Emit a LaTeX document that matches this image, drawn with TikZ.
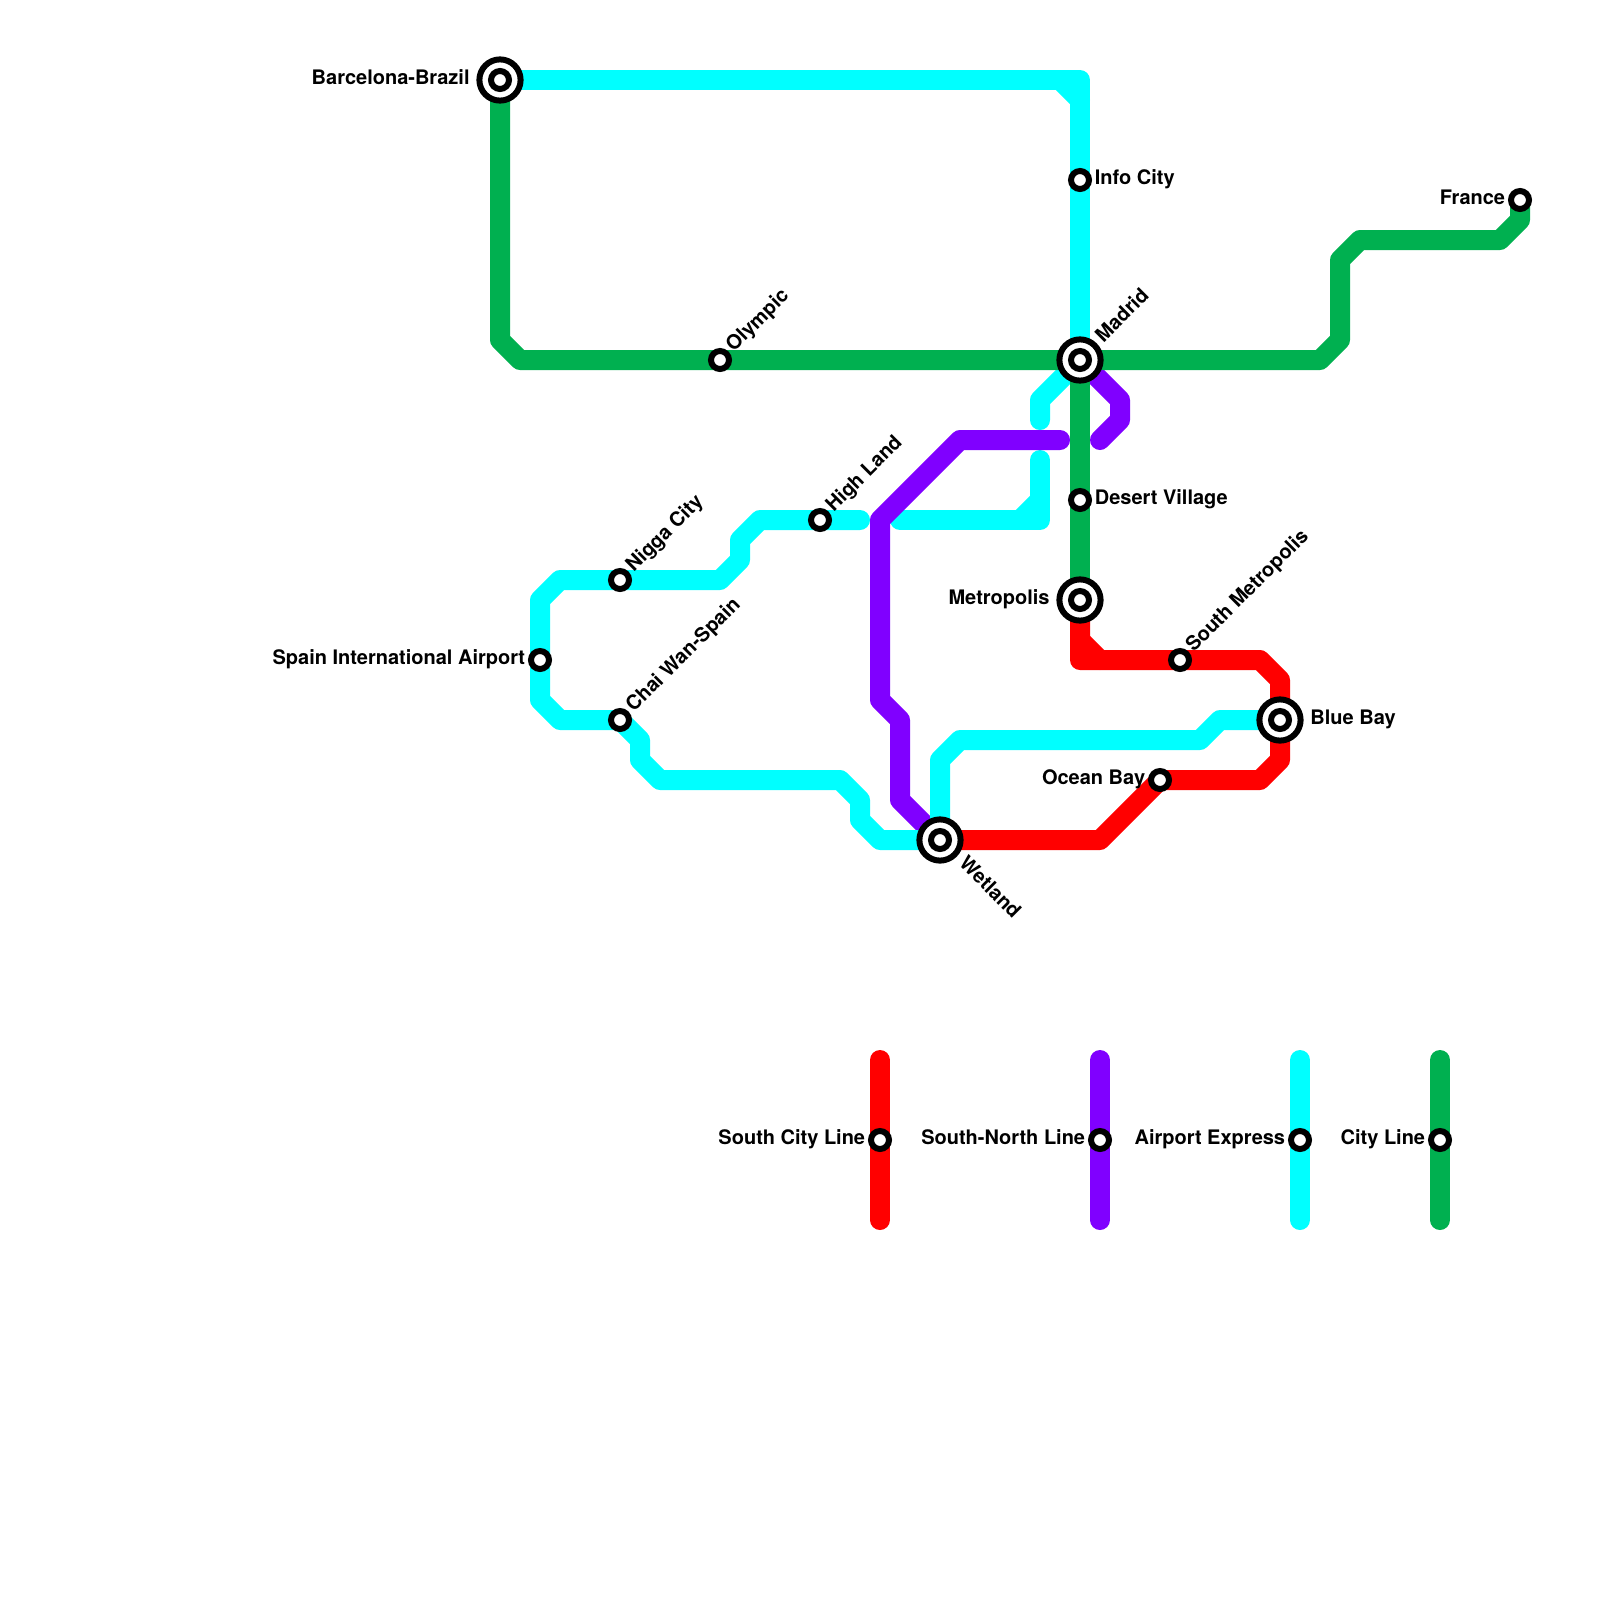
\documentclass[tikz,border=0pt]{standalone}
\usepackage{fontspec}
\setmainfont{TeX Gyre Heros}
\usetikzlibrary{positioning,backgrounds}
\definecolor{cityc}{HTML}{00B050}
\definecolor{airportc}{HTML}{00FFFF}
\definecolor{southc}{HTML}{FF0000}
\definecolor{northc}{HTML}{8000FF}
\tikzset{
stop/.style={circle,draw=black,fill=white,line width=.075cm,minimum size=.225cm,inner sep=0pt,outer sep=0pt},
hub/.style={circle,draw=black,fill=white,line width=.075cm,minimum size=.515cm,inner sep=0pt,outer sep=0pt},
metro/.style={line width=.25cm,line cap=round,line join=round},
txt/.style={inner sep=0pt,outer sep=0pt,text height=5.2pt,text depth=1.8pt,font=\bfseries\fontsize{7.11}{8.5}\selectfont},
}
\begin{document}
\begin{tikzpicture}[x=.25cm,y=-.25cm]
\useasboundingbox (0,0) rectangle (80,80);
\node[hub] (barcelona) at (25,4) {};
\node[stop] (barcelonain) at (25,4) {};
\node[hub] (madrid) at (54,18) {};
\node[stop] (madridin) at (54,18) {};
\node[hub] (metropolis) at (54,30) {};
\node[stop] (metropolisin) at (54,30) {};
\node[hub] (bluebay) at (64,36) {};
\node[stop] (bluebayin) at (64,36) {};
\node[hub] (wetland) at (47,42) {};
\node[stop] (wetlandin) at (47,42) {};
\node[stop] (infocity) at (54,9) {};
\node[stop] (france) at (76,10) {};
\node[stop] (olympic) at (36,18) {};
\node[stop] (highland) at (41,26) {};
\node[stop] (desert) at (54,25) {};
\node[stop] (nigga) at (31,29) {};
\node[stop] (southmetro) at (59,33) {};
\node[stop] (spain) at (27,33) {};
\node[stop] (chaiwan) at (31,36) {};
\node[stop] (oceanbay) at (58,39) {};
\node[stop] (keysouth) at (44,57) {};
\node[stop] (keynorth) at (55,57) {};
\node[stop] (keyairport) at (65,57) {};
\node[stop] (keycity) at (72,57) {};
\node[txt,left=3.5pt of barcelona] (barcelonatxt) {Barcelona-Brazil};
\node[txt,right=2.1pt of infocity] (infocitytxt) {Info City};
\node[txt,left=2.1pt of france] (francetxt) {France};
\node[txt,above right=1.5pt and 1.5pt of olympic,rotate=45,anchor=west] (olympictxt) {Olympic};
\node[txt,above right=2pt and 2pt of madrid,rotate=45,anchor=west] (madridtxt) {Madrid};
\node[txt,above right=1.5pt and 1.5pt of highland,rotate=45,anchor=west] (highlandtxt) {High Land};
\node[txt,right=2.1pt of desert] (deserttxt) {Desert Village};
\node[txt,above right=1.5pt and 1.5pt of nigga,rotate=45,anchor=west] (niggatxt) {Nigga City};
\node[txt,left=3.5pt of metropolis] (metropolistxt) {Metropolis};
\node[txt,above right=1.5pt and 1.5pt of southmetro,rotate=45,anchor=west] (southmetrotxt) {South Metropolis};
\node[txt,left=2.1pt of spain] (spaintxt) {Spain International Airport};
\node[txt,above right=1.5pt and 1.5pt of chaiwan,rotate=45,anchor=west] (chaiwantxt) {Chai Wan-Spain};
\node[txt,right=3.5pt of bluebay] (bluebaytxt) {Blue Bay};
\node[txt,left=2.1pt of oceanbay] (oceanbaytxt) {Ocean Bay};
\node[txt,below right=2.5pt and 2.5pt of wetland,rotate=-45,anchor=west] (wetlandtxt) {Wetland};
\node[txt,left=2.1pt of keysouth] (keysouthtxt) {South City Line};
\node[txt,left=2.1pt of keynorth] (keynorthtxt) {South-North Line};
\node[txt,left=2.1pt of keyairport] (keyairporttxt) {Airport Express};
\node[txt,left=2.1pt of keycity] (keycitytxt) {City Line};
\coordinate (keytop) at (0,53);
\coordinate (keybot) at (0,61);
\begin{scope}[on background layer]
\draw[metro,airportc] (52,23) -- (52,26) -- (45,26);
\draw[metro,airportc] (52,25) -- (51,26);
\draw[metro,northc] (madrid.center) -- (56,20) -- (56,21) -- (55,22);
\draw[metro,northc] (53,22) -- (48,22) -- (44,26) -- (44,35) -- (45,36) -- (45,40) -- (wetland.center);
\draw[metro,airportc] (barcelona.center) -- (54,4) -- (madrid.center);
\draw[metro,airportc] (53,4) -- (54,5);
\draw[metro,airportc] (madrid.center) -- (52,20) -- (52,21);
\draw[metro,airportc] (43,26) -- (38,26) -- (37,27) -- (37,28) -- (36,29) -- (28,29) -- (27,30) -- (27,35) -- (28,36) -- (chaiwan.center) -- (32,37) -- (32,38) -- (33,39) -- (42,39) -- (43,40) -- (43,41) -- (44,42) -- (wetland.center);
\draw[metro,airportc] (wetland.center) -- (47,38) -- (48,37) -- (60,37) -- (61,36) -- (bluebay.center);
\draw[metro,southc] (metropolis.center) -- (54,33) -- (63,33) -- (64,34) -- (64,38) -- (63,39) -- (oceanbay.center) -- (55,42) -- (wetland.center);
\draw[metro,southc] (54,32) -- (55,33);
\draw[metro,cityc] (barcelona.center) -- (25,17) -- (26,18) -- (66,18) -- (67,17) -- (67,13) -- (68,12) -- (75,12) -- (76,11) -- (france.center);
\draw[metro,cityc] (madrid.center) -- (metropolis.center);
\draw[metro,southc] (keysouth |- keytop) -- (keysouth |- keybot);
\draw[metro,northc] (keynorth |- keytop) -- (keynorth |- keybot);
\draw[metro,airportc] (keyairport |- keytop) -- (keyairport |- keybot);
\draw[metro,cityc] (keycity |- keytop) -- (keycity |- keybot);
\end{scope}
\end{tikzpicture}
\end{document}
